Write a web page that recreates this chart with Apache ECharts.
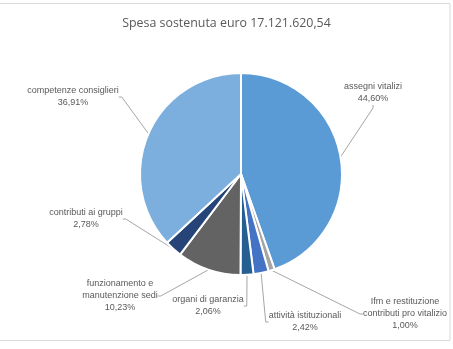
<!DOCTYPE html>
<html>
<head>
<meta charset="utf-8">
<script src="https://cdn.jsdelivr.net/npm/echarts@6/dist/echarts.min.js"></script>
<style>
  html, body { margin: 0; padding: 0; background: #fff; }
  #chart { width: 453px; height: 349px; }
</style>
</head>
<body>
<div id="chart"></div>
<script>
// Spending breakdown (percent of total)
const categories = [
  'assegni vitalizi',
  'Ifm e restituzione\ncontributi pro vitalizio',
  'attività istituzionali',
  'organi di garanzia',
  'funzionamento e\nmanutenzione sedi',
  'contributi ai gruppi',
  'competenze consiglieri'
];
const shares = [44.60, 1.00, 2.42, 2.06, 10.23, 2.78, 36.91];
const sliceColors = ['#5B9BD5', '#A5A5A5', '#4472C4', '#255E91', '#636363', '#264478', '#7CAFDD'];
const titleText = 'Spesa sostenuta euro 17.121.620,54';

// Label anchor points (centre of each label block), in pixels
const labelAnchors = [
  [373, 93], [405, 314], [305, 322], [208, 306], [120, 296], [86, 219], [73, 97]
];

const chart = echarts.init(document.getElementById('chart'), null, { renderer: 'canvas' });

const fmt = v => v.toFixed(2).replace('.', ',') + '%';

chart.setOption({
  animation: false,
  backgroundColor: '#fff',
  graphic: [{
    type: 'rect',
    shape: { x: -1, y: 3.5, width: 451, height: 337 },
    style: { fill: 'none', stroke: '#d9d9d9', lineWidth: 1 },
    silent: true, z: -1
  }],
  title: {
    text: titleText,
    left: 'center',
    top: 12,
    textStyle: {
      fontFamily: 'Open Sans',
      fontSize: 12.4,
      fontWeight: 'normal',
      color: '#595959'
    }
  },
  series: [{
    type: 'pie',
    center: [241, 174],
    radius: 101,
    startAngle: 90,
    clockwise: true,
    avoidLabelOverlap: false,
    itemStyle: { borderColor: '#fff', borderWidth: 2 },
    label: {
      show: true,
      position: 'outside',
      fontFamily: 'Liberation Sans',
      fontSize: 9,
      lineHeight: 12,
      color: '#595959',
      align: 'center',
      formatter: p => p.name + '\n' + fmt(p.value)
    },
    labelLine: {
      show: true,
      length2: 3,
      minTurnAngle: 0,
      lineStyle: { color: '#a6a6a6', width: 1 }
    },
    labelLayout: p => ({
      x: labelAnchors[p.dataIndex][0],
      y: labelAnchors[p.dataIndex][1],
      align: 'center',
      verticalAlign: 'middle'
    }),
    data: categories.map((c, i) => ({
      name: c,
      value: shares[i],
      itemStyle: { color: sliceColors[i] }
    }))
  }]
});
</script>
</body>
</html>
